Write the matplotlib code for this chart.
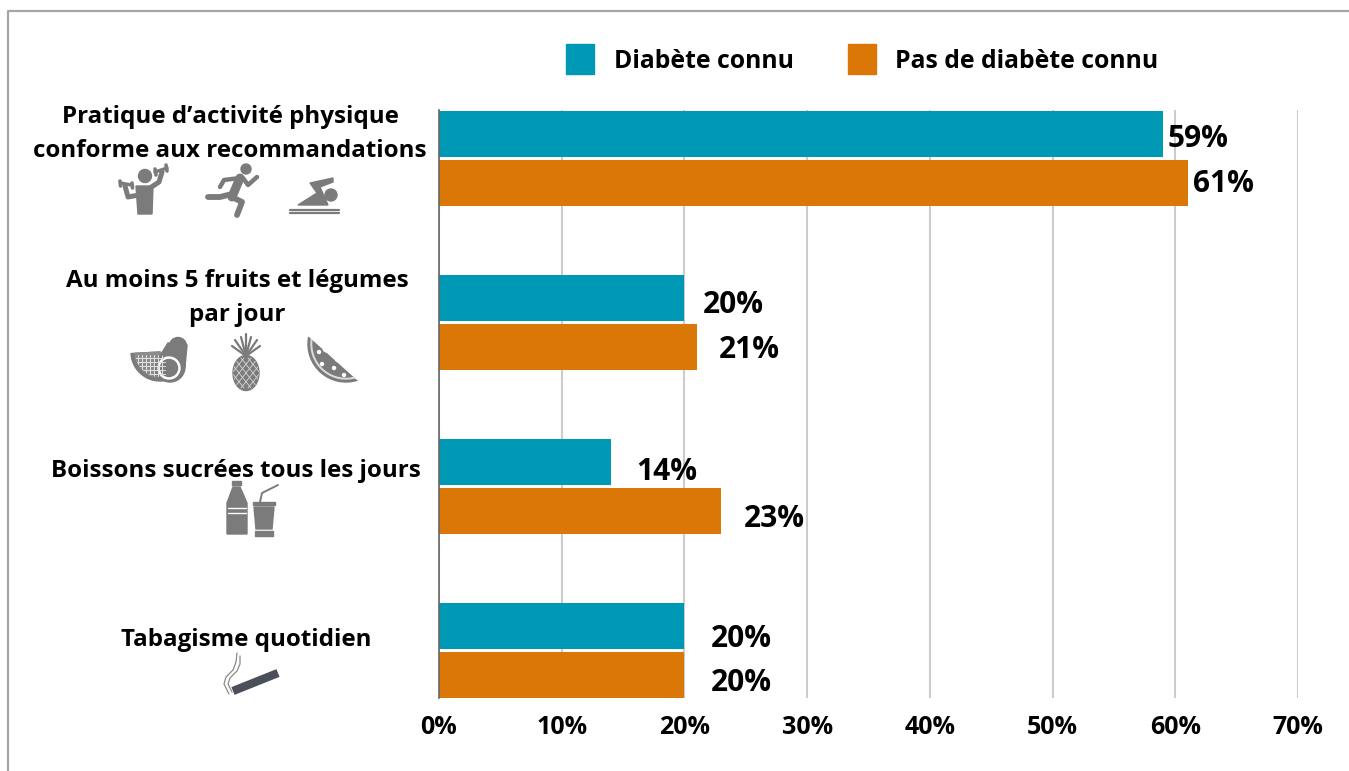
import matplotlib
matplotlib.use('Agg')
import matplotlib.pyplot as plt
from matplotlib.patches import Circle, Ellipse, Polygon, Rectangle, Wedge

W = 1349
H = 771

# data
categories = ['Pratique d’activité physique\nconforme aux recommandations',
              'Au moins 5 fruits et légumes\npar jour',
              'Boissons sucrées tous les jours',
              'Tabagisme quotidien']
diabete = [59, 20, 14, 20]
pas_diabete = [61, 21, 23, 20]
series_names = ['Diabète connu', 'Pas de diabète connu']
xticks = [0, 10, 20, 30, 40, 50, 60, 70]

# label placement (in points from the end of the bar)
dx_diabete = [3, 13, 18.5, 19]
dx_pas = [4, 16, 16.5, 19]
dy_diabete = [-3.5, -5, -7, -9.5]
dy_pas = [-1, -2, -5.5, -5.7]
cat_x = [230, 237, 236, 246]
cat_y = [134, 298, 471, 640]

TEAL = '#0099B5'
ORANGE = '#DB7706'
GREY = '#7B7B7B'

plt.rcParams['font.family'] = ['Open Sans', 'DejaVu Sans']
plt.rcParams['font.weight'] = 'bold'

fig = plt.figure(figsize=(W / 100, H / 100), dpi=100)
ax = fig.add_axes([439 / W, 1 - 698 / H, (1298 - 439) / W, (698 - 110) / H])

h = 46 / 164
off = 24.5 / 164
for i in range(len(categories)):
    ax.barh(i - off, diabete[i], height=h, color=TEAL, zorder=3)
    ax.barh(i + off, pas_diabete[i], height=h, color=ORANGE, zorder=3)
    ax.annotate(f'{diabete[i]}%', (diabete[i], i - off), xytext=(dx_diabete[i], dy_diabete[i]),
                textcoords='offset points', va='center', fontsize=21.5, zorder=4)
    ax.annotate(f'{pas_diabete[i]}%', (pas_diabete[i], i + off), xytext=(dx_pas[i], dy_pas[i]),
                textcoords='offset points', va='center', fontsize=21.5, zorder=4)

ax.set_xlim(0, 70)
ax.set_ylim(3.29, -0.295)
ax.set_yticks([])
ax.set_xticks(xticks)
ax.set_xticklabels([f'{t}%' for t in xticks], fontsize=18)
ax.tick_params(axis='x', length=0, pad=12)
ax.grid(axis='x', color='#CCCCCC', linewidth=1.5, zorder=0)
ax.set_axisbelow(True)
for s in ['top', 'right', 'bottom']:
    ax.spines[s].set_visible(False)
ax.spines['left'].set_color('#666666')
ax.spines['left'].set_linewidth(1.2)
ax.spines['left'].set_zorder(5)

# overlay in pixels for frame, legend, category labels and icons
ov = fig.add_axes([0, 0, 1, 1], zorder=10)
ov.set_xlim(0, W)
ov.set_ylim(H, 0)
ov.axis('off')
ov.patch.set_alpha(0)

ov.plot([8, 8, W], [H, 10.5, 10.5], color='#A6A6A6', lw=1.6)

ov.add_patch(Rectangle((566, 44), 28, 30, color=TEAL))
ov.add_patch(Rectangle((848, 44), 28, 30, color=ORANGE))
ov.text(614, 62, series_names[0], va='center', fontsize=17.8)
ov.text(895, 62, series_names[1], va='center', fontsize=17.8)

for i, c in enumerate(categories):
    ov.text(cat_x[i], cat_y[i], c, ha='center', va='center', fontsize=17.4, linespacing=1.52)


def line(xs, ys, lw=3.0, col=GREY, cap='round'):
    return ov.plot(xs, ys, color=col, lw=lw, solid_capstyle=cap, solid_joinstyle='round')[0]


# gym
ov.add_patch(Circle((145, 176), 6.5, color=GREY))
ov.add_patch(Polygon([(136, 186), (153, 186), (152, 214), (138, 214)], color=GREY))
line([139, 128, 125], [195, 197, 186], 3.6)
line([150, 159, 162], [188, 182, 172], 3.6)
line([121, 131], [183, 185], 2.4)
line([155, 167], [172, 168], 2.4)
line([120, 120.5], [181, 186], 2.6)
line([132, 132.5], [183, 188], 2.6)
line([155, 156], [169, 175], 2.6)
line([166, 167], [165, 171], 2.6)
# runner
ov.add_patch(Circle((246, 169), 5, color=GREY))
line([240, 232], [178, 197], 6.5)
line([232, 220, 208], [194, 197, 197], 4.2)
line([232, 242, 237], [197, 202, 215], 4.2)
line([240, 224, 220], [178, 180, 187], 3.2)
line([243, 248, 257], [178, 185, 177], 3.2)
# swimmer
ov.add_patch(Circle((331, 195), 6, color=GREY))
ov.add_patch(Polygon([(298, 205), (317, 193), (310, 183), (333, 178), (333, 182), (320, 187), (328, 205)], color=GREY))
line([290, 339], [210, 210], 1.6)
line([290, 339], [213, 213], 1.6)

# melon slice + avocado
sl = Wedge((160, 352), 29, 55, 177, color=GREY)
ov.add_patch(sl)
sl2 = Wedge((160, 352), 25, 55, 177, color='#8C8C8C')
ov.add_patch(sl2)
for k in range(8):
    line([134 + k * 4, 134 + k * 4], [355, 384], 0.7, '#E2E2E2').set_clip_path(sl2)
    line([132, 165], [358 + k * 4, 358 + k * 4], 0.7, '#E2E2E2').set_clip_path(sl2)
ov.add_patch(Circle((170, 367), 15, color=GREY))
ov.add_patch(Polygon([(156, 362), (168, 343), (187, 345), (185, 367)], color=GREY))
ov.add_patch(Circle((178, 346), 8.5, color=GREY))
ov.add_patch(Circle((169, 368), 11, color='white'))
ov.add_patch(Circle((169, 368), 8.5, color=GREY))
# pineapple
for lx, ly in [(232, 346), (235, 340), (241, 337), (246, 334), (251, 337), (257, 340), (260, 346)]:
    line([246, lx], [356, ly], 1.6)
body = Ellipse((246, 373), 26, 35, color=GREY)
ov.add_patch(body)
for k in range(-4, 5):
    line([234 + k * 7, 258 + k * 7], [358, 388], 0.6, '#D8D8D8').set_clip_path(body)
    line([258 + k * 7, 234 + k * 7], [358, 388], 0.6, '#D8D8D8').set_clip_path(body)
# watermelon
ov.add_patch(Wedge((346, 344), 38, 72, 190, color=GREY))
ov.add_patch(Wedge((346, 344), 35, 72, 190, color='#DDDDDD'))
ov.add_patch(Wedge((346, 344), 33, 72, 190, color=GREY))
ov.add_patch(Polygon([(309, 336), (358, 380), (350, 340)], color='white', zorder=3))
for bx, by, br in [(327, 348, 4), (339, 358, 4), (349, 367, 3)]:
    ov.add_patch(Circle((bx, by), br, color='white', zorder=3))
for sx, sy in [(319, 352), (322, 364), (334, 368), (344, 375)]:
    ov.add_patch(Circle((sx, sy), 1.5, color='white', zorder=3))

# bottle
ov.add_patch(Rectangle((232, 481), 9, 4, color=GREY))
ov.add_patch(Polygon([(233, 487), (240, 487), (247, 503), (247, 534), (227, 534), (227, 503)], color=GREY))
line([228, 246], [508, 508], 1.0, 'white')
line([228, 246], [513, 513], 1.0, 'white')
# cup
ov.add_patch(Rectangle((253, 502), 22, 3, color=GREY))
ov.add_patch(Polygon([(254, 507), (274, 507), (272, 529), (256, 529)], color=GREY))
ov.add_patch(Rectangle((255, 531), 18, 2, color=GREY))
ov.add_patch(Rectangle((255, 534), 18, 2, color=GREY))
line([260, 262, 278], [502, 493, 485], 1.4)

# cigarette
line([233, 278], [691, 673], 6, '#4A4F5A', 'butt')
line([229, 224, 226, 233, 236, 237], [694, 684, 677, 670, 662, 653], 0.9, '#8A8A8A')
line([232, 228, 230, 237, 240, 240], [692, 684, 678, 671, 664, 656], 0.9, '#8A8A8A')

fig.savefig('out.png', dpi=100)
